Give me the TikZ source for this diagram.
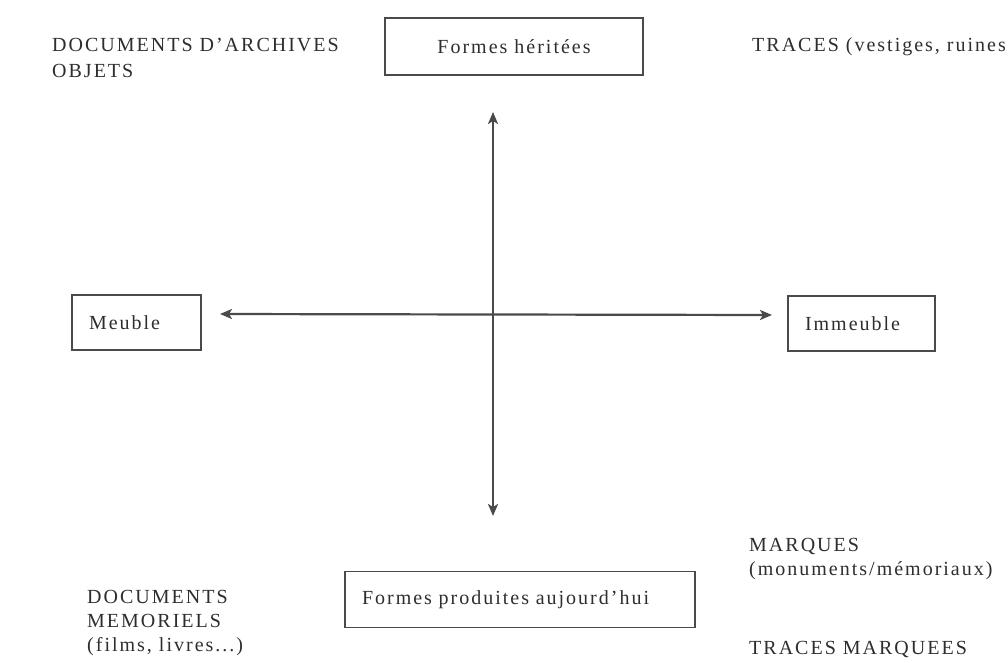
\documentclass[tikz,border=0pt]{standalone}
\usepackage{fontspec}
\setmainfont{Liberation Serif}[LetterSpace=10]
\usetikzlibrary{arrows.meta}
\definecolor{ink}{HTML}{2E2E2E}
\definecolor{linec}{HTML}{4A4A4A}
\tikzset{
  lbl/.style={anchor=base west, inner sep=0pt, text=ink, font=\fontsize{20}{24}\selectfont},
  boxed/.style={draw=linec, line width=1.6pt, inner sep=0pt, text=ink, font=\fontsize{20}{24}\selectfont},
  axis/.style={draw=linec, line width=2.2pt, {Stealth[length=12pt,width=10pt,inset=3pt]}-{Stealth[length=12pt,width=10pt,inset=3pt]}}
}
\begin{document}
\begin{tikzpicture}[x=1pt,y=-1pt]
\useasboundingbox[fill=white] (0,0) rectangle (1006,664);
% top
\node[lbl] (docarch) at (52,51) {DOCUMENTS D’ARCHIVES};
\node[lbl] (objets) at (52,77) {OBJETS};
\node[boxed, minimum width=258pt, minimum height=57pt] (herit) at (514,46.5) {Formes héritées};
\node[lbl] (traces) at (752,51) {TRACES (vestiges, ruines};
% middle
\node[boxed, minimum width=129pt, minimum height=55pt, text width=95pt, align=left] (meuble) at (136.5,322.5) {Meuble};
\node[boxed, minimum width=147pt, minimum height=55pt, text width=113pt, align=left] (immeuble) at (861.5,323.5) {Immeuble};
% bottom
\node[boxed, minimum width=350pt, minimum height=56pt, text width=316pt, align=left] (prod) at (520,599.5) {Formes produites aujourd’hui};
\node[lbl] (docmem1) at (87,603) {DOCUMENTS};
\node[lbl] (docmem2) at (87,627) {MEMORIELS};
\node[lbl] (docmem3) at (87,651) {(films, livres...)};
\node[lbl] (marq1) at (749,551) {MARQUES};
\node[lbl] (marq2) at (749,575) {(monuments/mémoriaux)};
\node[lbl] (tracesm) at (749,654) {TRACES MARQUEES};
% axes
\coordinate (vtop) at (493,112);
\coordinate (vbot) at (493,516);
\coordinate (hleft) at (220,314);
\coordinate (hright) at (772,315);
\draw[axis] (vtop) -- (vbot);
\draw[axis] (hleft) -- (hright);
\end{tikzpicture}
\end{document}
